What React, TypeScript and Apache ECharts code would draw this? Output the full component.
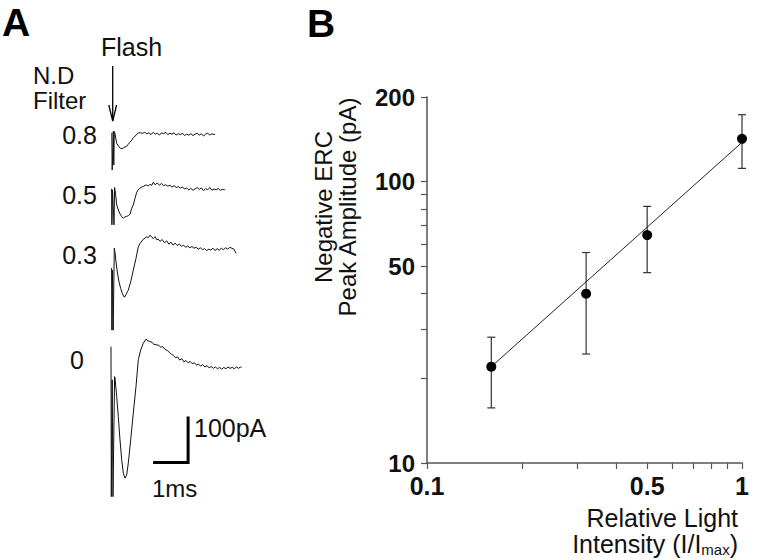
import React, { useEffect, useRef } from "react";
import * as echarts from "echarts";

// ---------- Panel A: ERC traces (time in ms from flash, current in pA relative to baseline) ----------
const ndFilters = ["0.8", "0.5", "0.3", "0"];

const trace08: number[][] = [
  [-0.02, 3], [-0.009, -78], [0.009, -78], [0.023, 6], [0.037, -67], [0.051, 6],
  [0.071, 1.5], [0.12, -20], [0.186, -27.6], [0.234, -31], [0.27, -31.5], [0.309, -29.8],
  [0.357, -27.6], [0.4, -27], [0.451, -21.7], [0.5, -17.4], [0.549, -13], [0.594, -7.6],
  [0.643, -4.3], [0.737, 2.8], [0.8, 3], [0.86, 2], [0.92, 4], [0.98, 1], [1.04, 3],
  [1.1, -1], [1.16, 4], [1.22, 0], [1.28, 2], [1.34, -2], [1.4, 3], [1.46, 1], [1.52, 4],
  [1.58, -1], [1.64, 2], [1.7, 0], [1.76, 3], [1.82, -2], [1.88, 1], [1.94, -1], [2.0, 2],
  [2.06, -3], [2.12, 0], [2.18, -2], [2.24, 1], [2.3, -3], [2.36, 0], [2.42, 2], [2.48, -2],
  [2.54, 1], [2.6, -4], [2.66, 0], [2.72, 2], [2.78, -2], [2.84, 1], [2.9, -1], [2.93, 0],
];

const trace05: number[][] = [
  [-0.026, 0], [-0.017, -78], [0.0, -2], [0.043, -78], [0.06, 3.3],
  [0.091, -13], [0.12, -34.8], [0.166, -45.7], [0.214, -54.4], [0.263, -60.2], [0.309, -63.7],
  [0.357, -60.9], [0.406, -59.8], [0.451, -58], [0.5, -55], [0.549, -42], [0.594, -34.8],
  [0.643, -20.2], [0.686, -8.7], [0.729, -2.2], [0.786, 1.5], [0.834, 4.3], [0.88, 5],
  [0.929, 7.6], [0.977, 8.7], [1.023, 6.5], [1.071, 10.2], [1.12, 7.6], [1.166, 14.6],
  [1.22, 9], [1.28, 13], [1.34, 8], [1.4, 12], [1.46, 7], [1.52, 9], [1.58, 6], [1.64, 8],
  [1.7, 4], [1.76, 7], [1.82, 3], [1.88, 5], [1.94, 2], [2.0, 4], [2.06, 0], [2.12, 2],
  [2.18, -2], [2.24, 1], [2.3, -3], [2.36, 0], [2.42, 3], [2.48, -1], [2.54, 2], [2.6, -4],
  [2.66, 1], [2.72, -2], [2.78, 3], [2.84, -3], [2.9, 0], [2.96, -2], [3.02, 1], [3.08, -3],
  [3.14, -1], [3.21, -2],
];

const trace03: number[][] = [
  [-0.026, -41], [-0.017, -176], [0.0, -46], [0.02, -176], [0.051, 2],
  [0.071, -6.5], [0.1, -27.6], [0.137, -49.3], [0.186, -71], [0.234, -85.4], [0.28, -96.3],
  [0.329, -103.7], [0.357, -103.3], [0.386, -98.5], [0.451, -89.1], [0.52, -71], [0.594, -45.7],
  [0.671, -20.2], [0.737, 5], [0.786, 12.4], [0.88, 21.7], [0.977, 26.7], [1.023, 25],
  [1.071, 30.4], [1.12, 26.1], [1.166, 23.3], [1.214, 27.2], [1.263, 20.7], [1.309, 21.7],
  [1.36, 17], [1.42, 21], [1.48, 14], [1.55, 18], [1.61, 11], [1.67, 15], [1.73, 9], [1.79, 13],
  [1.85, 8], [1.91, 11], [1.97, 6], [2.03, 9], [2.09, 4], [2.15, 7], [2.21, 3], [2.27, 6],
  [2.33, 2], [2.39, 4], [2.45, 0], [2.51, 3], [2.57, -1], [2.63, 1], [2.69, -3], [2.75, 0],
  [2.81, -2], [2.87, 2], [2.93, -3], [2.99, 1], [3.05, -2], [3.11, 2], [3.17, -1], [3.23, 3],
  [3.29, 0], [3.35, 4], [3.41, 2], [3.47, 0], [3.53, -9],
];

const trace0: number[][] = [
  [-0.043, 46], [-0.034, -280], [-0.009, -26], [0.014, -280], [0.06, -19],
  [0.071, -21.7], [0.12, -62.4], [0.166, -105.9], [0.214, -156.5], [0.263, -200], [0.309, -228.9],
  [0.357, -239.8], [0.406, -232.6], [0.451, -207.2], [0.52, -156.5], [0.594, -98.5], [0.671, -40.7],
  [0.737, 17.4], [0.806, 39.1], [0.88, 53.7], [0.957, 62.4], [1.014, 58.7], [1.071, 57.2],
  [1.129, 55.4], [1.186, 51.1], [1.263, 50], [1.32, 49], [1.38, 45], [1.44, 46], [1.5, 40],
  [1.56, 38], [1.62, 34], [1.68, 30], [1.74, 27], [1.8, 22], [1.86, 24], [1.92, 17], [1.98, 20],
  [2.04, 13], [2.1, 16], [2.16, 11], [2.22, 14], [2.28, 9], [2.34, 11], [2.4, 6], [2.46, 8],
  [2.52, 4], [2.58, 7], [2.64, 2], [2.7, 5], [2.76, 0], [2.82, 3], [2.88, -1], [2.94, 2],
  [3.0, -2], [3.06, 1], [3.12, -3], [3.18, 1], [3.24, -2], [3.3, 2], [3.36, -1], [3.42, 1],
  [3.48, -2], [3.54, 2], [3.6, -1], [3.66, 2], [3.69, 1],
];

const traces = [trace08, trace05, trace03, trace0];
const traceOffsets = [-183, -302, -433, -691]; // vertical stacking offsets (pA)
const scaleBarOrigin = [1.16, -897]; // [ms, pA]
const scaleBarMs = 1;
const scaleBarPA = 100;

// ---------- Panel B: intensity-response ----------
const intensity = [0.16, 0.32, 0.5, 1];
const amplitude = [22, 40, 64.6, 142];
const ampLow = [15.7, 24.4, 47.5, 111.5];
const ampHigh = [28, 56, 81.7, 173];
const fitIntensity = [0.16, 1];
const fitAmplitude = [22, 138];
const xTickValues = [0.1, 0.2, 0.3, 0.4, 0.5, 0.6, 0.7, 0.8, 0.9, 1];
const xLabelValues = [0.1, 0.5, 1];
const yTickValues = [10, 20, 30, 40, 50, 60, 70, 80, 90, 100, 200];
const yLabelValues = [10, 50, 100, 200];

const FONT = "'Liberation Sans', Arial, Helvetica, sans-serif";
const lg = (v: number) => Math.log10(v);
const unlg = (v: number) => String(Number(Math.pow(10, v).toPrecision(3)));

export default function App() {
  const ref = useRef<HTMLDivElement>(null);
  useEffect(() => {
    if (!ref.current) return;
    const chart = echarts.init(ref.current, undefined, { renderer: "svg" });

    const traceSeries = traces.map((tr, i) => ({
      type: "line",
      xAxisIndex: 0,
      yAxisIndex: 0,
      data: tr.map(([t, a]) => [t, a + traceOffsets[i]]),
      symbol: "none",
      lineStyle: { color: "#111", width: 1 },
      silent: true,
    }));

    const [ox, oy] = scaleBarOrigin;
    const txt = (text: string, x: number, y: number, extra: any = {}) => ({
      type: "text",
      x,
      y,
      style: {
        text,
        fontFamily: FONT,
        fontSize: 24,
        fill: "#111",
        textAlign: "left",
        textVerticalAlign: "middle",
        ...extra,
      },
    });

    const option: any = {
      animation: false,
      backgroundColor: "#fff",
      grid: [
        { left: 77.5, top: 50, width: 175, height: 460 },
        { left: 427, top: 97, width: 315, height: 366 },
      ],
      xAxis: [
        { gridIndex: 0, type: "value", min: -1, max: 4, show: false },
        {
          gridIndex: 1,
          type: "value",
          min: -1,
          max: 0,
          axisLine: { onZero: false, lineStyle: { color: "#555", width: 1.5 } },
          axisTick: {
            length: 6,
            lineStyle: { color: "#555", width: 1.2 },
            customValues: xTickValues.map(lg),
          },
          axisLabel: {
            customValues: xLabelValues.map(lg),
            formatter: (v: number) => unlg(v),
            fontFamily: FONT,
            fontSize: 25,
            fontWeight: "bold",
            color: "#111",
            margin: 10,
          },
          splitLine: { show: false },
        },
      ],
      yAxis: [
        { gridIndex: 0, type: "value", min: -1000, max: 0, show: false },
        {
          gridIndex: 1,
          type: "value",
          min: 1,
          max: lg(200),
          axisLine: { show: true, onZero: false, lineStyle: { color: "#555", width: 1.5 } },
          axisTick: {
            show: true,
            length: 6,
            lineStyle: { color: "#555", width: 1.2 },
            customValues: yTickValues.map(lg),
          },
          axisLabel: {
            customValues: yLabelValues.map(lg),
            formatter: (v: number) => unlg(v),
            fontFamily: FONT,
            fontSize: 24,
            fontWeight: "bold",
            color: "#111",
            margin: 12,
          },
          splitLine: { show: false },
        },
      ],
      series: [
        ...traceSeries,
        {
          type: "line",
          xAxisIndex: 0,
          yAxisIndex: 0,
          data: [
            [ox, oy],
            [ox + scaleBarMs, oy],
            [ox + scaleBarMs, oy + scaleBarPA],
          ],
          symbol: "none",
          lineStyle: { color: "#000", width: 3, join: "miter", cap: "butt" },
          silent: true,
        },
        {
          type: "line",
          xAxisIndex: 1,
          yAxisIndex: 1,
          data: fitIntensity.map((x, i) => [lg(x), lg(fitAmplitude[i])]),
          symbol: "none",
          lineStyle: { color: "#222", width: 1 },
          silent: true,
        },
        {
          type: "custom",
          xAxisIndex: 1,
          yAxisIndex: 1,
          data: intensity.map((x, i) => [lg(x), lg(ampLow[i]), lg(ampHigh[i])]),
          renderItem: (params: any, api: any) => {
            const lo = api.coord([api.value(0), api.value(1)]);
            const hi = api.coord([api.value(0), api.value(2)]);
            const w = 4;
            const st = { stroke: "#333", lineWidth: 1.2 };
            return {
              type: "group",
              children: [
                { type: "line", shape: { x1: lo[0], y1: lo[1], x2: hi[0], y2: hi[1] }, style: st },
                { type: "line", shape: { x1: lo[0] - w, y1: lo[1], x2: lo[0] + w, y2: lo[1] }, style: st },
                { type: "line", shape: { x1: hi[0] - w, y1: hi[1], x2: hi[0] + w, y2: hi[1] }, style: st },
              ],
            };
          },
          silent: true,
          z: 3,
        },
        {
          type: "scatter",
          xAxisIndex: 1,
          yAxisIndex: 1,
          data: intensity.map((x, i) => [lg(x), lg(amplitude[i])]),
          symbol: "circle",
          symbolSize: 10,
          itemStyle: { color: "#000", opacity: 1 },
          silent: true,
          z: 4,
        },
      ],
      graphic: [
        txt("A", 2, 22, { fontSize: 39, lineHeight: 39, fontWeight: "bold", fill: "#000" }),
        txt("B", 307, 23, { fontSize: 39, lineHeight: 39, fontWeight: "bold", fill: "#000" }),
        txt("Flash", 101, 47, { fontSize: 25 }),
        txt("N.D", 33, 75),
        txt("Filter", 33, 100),
        ...ndFilters.map((f, i) =>
          txt(f, i === 3 ? 77 : 79.5, [135, 195, 255, 360][i], { textAlign: "center", fontSize: 25 })
        ),
        txt("100pA", 194, 428, { fontSize: 25 }),
        txt("1ms", 152, 488),
        {
          type: "line",
          shape: { x1: 112.7, y1: 66, x2: 112.7, y2: 121 },
          style: { stroke: "#000", lineWidth: 1.3 },
        },
        {
          type: "polyline",
          shape: { points: [[108.8, 105], [112.7, 121], [116.6, 105]] },
          style: { stroke: "#000", lineWidth: 1.3, fill: "none" },
        },
        {
          type: "text",
          x: 335,
          y: 207,
          rotation: Math.PI / 2,
          style: {
            text: "Negative ERC\nPeak Amplitude (pA)",
            fontFamily: FONT,
            fontSize: 24,
            lineHeight: 24,
            fill: "#111",
            textAlign: "center",
            textVerticalAlign: "middle",
          },
        },
        txt("Relative Light", 738, 518, { textAlign: "right", fontSize: 25, lineHeight: 25 }),
        {
          type: "text",
          x: 738,
          y: 544,
          style: {
            text: "Intensity (I/I{sub|max})",
            fontFamily: FONT,
            fontSize: 25,
            lineHeight: 25,
            fill: "#111",
            textAlign: "right",
            textVerticalAlign: "middle",
            rich: {
              sub: { fontFamily: FONT, fontSize: 15, lineHeight: 8, verticalAlign: "bottom", fill: "#111" },
            },
          },
        },
      ],
    };

    chart.setOption(option);
    return () => chart.dispose();
  }, []);

  return (
    <div
      ref={ref}
      style={{ position: "fixed", left: 0, top: 0, width: 760, height: 560 }}
    />
  );
}
